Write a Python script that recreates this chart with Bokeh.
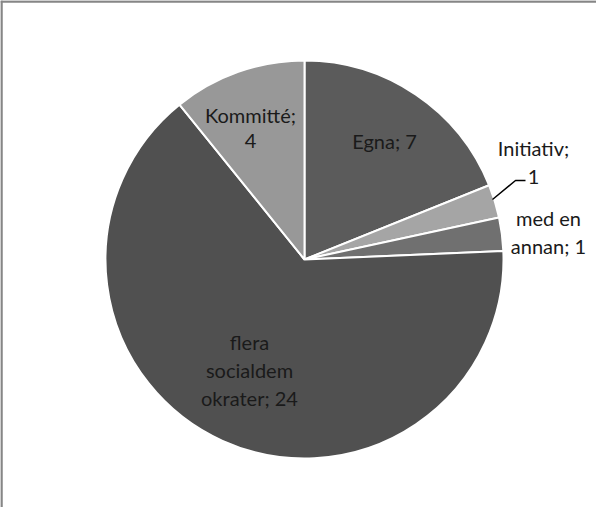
import numpy as np
from bokeh.plotting import figure
from bokeh.models import Range1d, Span, ColumnDataSource
from bokeh.core.properties import value
from bokeh.embed import file_html
from bokeh.resources import INLINE

# ---- data ----
categories = ["Egna", "Initiativ", "med en annan", "flera socialdemokrater", "Kommitté"]
counts = [7, 1, 1, 24, 4]
colors = ["#5b5b5b", "#a5a5a5", "#707070", "#505050", "#989898"]

# label lines per slice (as shown in chart)
label_lines = [
    ["Egna; 7"],
    ["Initiativ;", "1"],
    ["med en", "annan; 1"],
    ["flera", "socialdem", "okrater; 24"],
    ["Kommitté;", "4"],
]

# ---- layout ----
W, H = 596, 507
cx, cy, R = 304, 248, 199
# label anchor (x, y of first line) in plot units, and line spacing
label_pos = [(384, 367), (533, 360), (548, 290), (249, 166), (250, 393)]
line_gap = [0, 29, 28, 28, 26]

total = sum(counts)
cum = np.concatenate([[0], np.cumsum(counts)])
start = np.pi / 2 - cum[:-1] / total * 2 * np.pi
end = np.pi / 2 - cum[1:] / total * 2 * np.pi

p = figure(width=W, height=H, output_backend="svg", toolbar_location=None,
           x_range=Range1d(0, W), y_range=Range1d(0, H), min_border=0,
           outline_line_color=None)
p.axis.visible = False
p.grid.visible = False
p.background_fill_color = "white"
p.border_fill_color = "white"

src = ColumnDataSource(dict(x=[cx] * len(counts), y=[cy] * len(counts),
                            start=start, end=end, color=colors))
p.wedge(x="x", y="y", radius=R, start_angle="start", end_angle="end",
        direction="clock", fill_color="color", line_color="white",
        line_width=2, source=src)

# labels
tx, ty, tt = [], [], []
for (lx, ly), lines, gap in zip(label_pos, label_lines, line_gap):
    for i, s in enumerate(lines):
        tx.append(lx)
        ty.append(ly - i * gap)
        tt.append(s)
p.text(x=tx, y=ty, text=tt, text_font=value("Lato"), text_font_size="20px",
       text_color="#1a1a1a", text_align="center", text_baseline="middle")

# leader line for Initiativ
p.line(x=[492, 515, 525], y=[308, 327, 327], line_color="black", line_width=1.5)

# frame (left & top edges visible)
p.add_layout(Span(location=1, dimension="height", line_color="#868686", line_width=2.5))
p.add_layout(Span(location=H - 1, dimension="width", line_color="#868686", line_width=2.5))

open("out.html", "w").write(file_html(p, INLINE))
